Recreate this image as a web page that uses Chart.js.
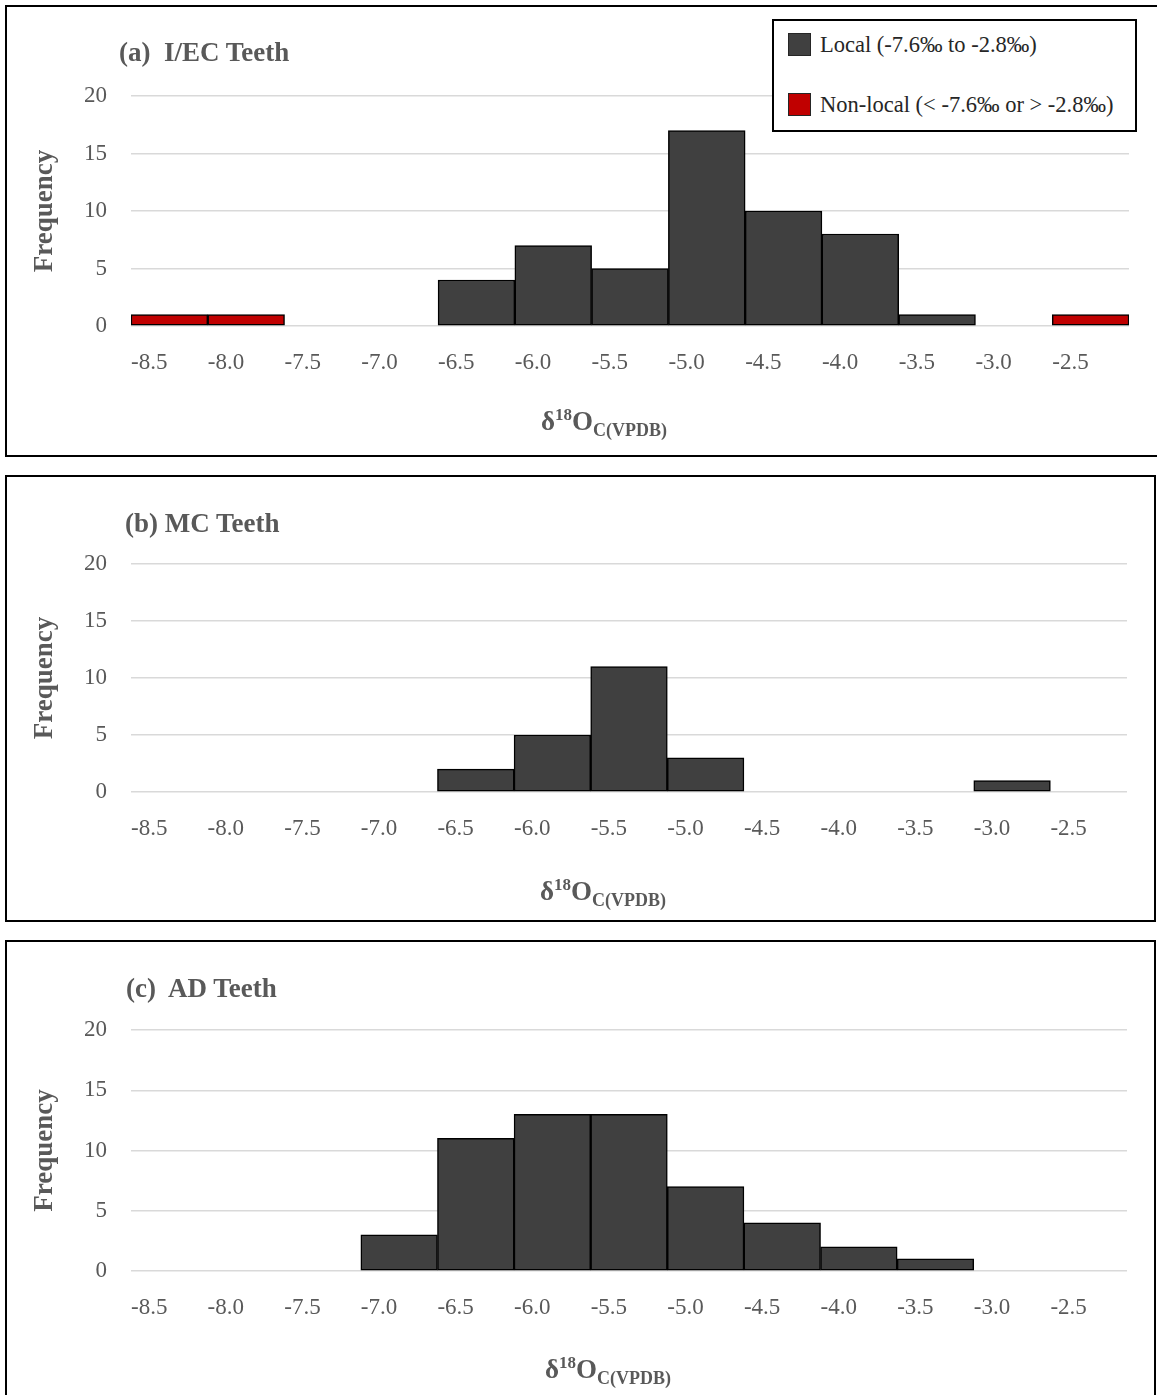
<!DOCTYPE html>
<html>
<head>
<meta charset="utf-8">
<script src="https://cdn.jsdelivr.net/npm/chart.js@4.4.1/dist/chart.umd.min.js"></script>
<style>
body { margin:0; background:#fff; width:1157px; height:1395px; overflow:hidden; position:relative; font-family:"Liberation Serif", serif; }
.panel { position:absolute; border:2px solid #000; box-sizing:border-box; background:#fff; }
.panel canvas { position:absolute; left:0; top:0; }
.ptitle { position:absolute; font-weight:bold; font-size:27px; line-height:27px; color:#595959; white-space:pre; }
.xtitle { position:absolute; width:300px; text-align:center; font-weight:bold; font-size:27px; line-height:30px; color:#595959; white-space:nowrap; }
.xtitle sup { font-size:17px; vertical-align:baseline; position:relative; top:-10px; }
.xtitle sub { font-size:18px; vertical-align:baseline; position:relative; top:6px; }
.legend { position:absolute; left:772px; top:19px; width:365px; height:113px; border:2px solid #000; box-sizing:border-box; background:#fff; }
.legend .item { position:absolute; left:14px; font-size:22.5px; line-height:24px; color:#262626; white-space:nowrap; }
.legend .sw { display:inline-block; width:23px; height:23px; box-sizing:border-box; border:1px solid #262626; vertical-align:top; margin-right:9px; }
</style>
</head>
<body>
<script>
// bins (x labels)
const bins = ["-8.5", "-8.0", "-7.5", "-7.0", "-6.5", "-6.0", "-5.5", "-5.0", "-4.5", "-4.0", "-3.5", "-3.0", "-2.5"];

// (a) I/EC
const localA    = [0, 0, 0, 0, 4, 7, 5, 17, 10, 8, 1, 0, 0];
const nonLocalA = [1, 1, 0, 0, 0, 0, 0, 0, 0, 0, 0, 0, 1];
// (b) MC
const localB = [0, 0, 0, 0, 2, 5, 11, 3, 0, 0, 0, 1, 0];
// (c) AD
const localC = [0, 0, 0, 3, 11, 13, 13, 7, 4, 2, 1, 0, 0];

const yMin = 0, yMax = 20, yStep = 5;

const localLabel = "Local (-7.6\u2030 to -2.8\u2030)";
const nonLocalLabel = "Non-local (< -7.6\u2030 or > -2.8\u2030)";

const txtColor = "#595959";
const fam = "'Liberation Serif', serif";

function barSet(label, data, color) {
	return {
		label: label,
		data: data,
		xAxisID: "x",
		yAxisID: "y",
		backgroundColor: color,
		borderColor: "#000000",
		borderWidth: 1.5,
		borderSkipped: false,
		barPercentage: 1,
		categoryPercentage: 1,
		grouped: false
	};
}

const panels = [
	{ left: 5, top: 5, width: 1154, height: 452, plot: { l: 131, r: 1129, t: 96, b: 326 },
	  title: "(a)  I/EC Teeth", titleX: 119, titleBase: 62, axisCX: 604, axisBase: 430,
	  datasets: [barSet(localLabel, localA, "#404040"), barSet(nonLocalLabel, nonLocalA, "#C00000")], legend: true },
	{ left: 5, top: 475, width: 1151, height: 447, plot: { l: 131, r: 1127, t: 564, b: 792 },
	  title: "(b) MC Teeth", titleX: 125, titleBase: 533, axisCX: 603, axisBase: 900,
	  datasets: [barSet(localLabel, localB, "#404040")] },
	{ left: 5, top: 940, width: 1151, height: 470, plot: { l: 131, r: 1127, t: 1030, b: 1271 },
	  title: "(c)  AD Teeth", titleX: 126, titleBase: 998, axisCX: 608, axisBase: 1378,
	  datasets: [barSet(localLabel, localC, "#404040")] }
];

panels.forEach(function(p) {
	let box = document.createElement("div");
	box.className = "panel";
	box.style.left = p.left + "px";
	box.style.top = p.top + "px";
	box.style.width = p.width + "px";
	box.style.height = p.height + "px";
	document.body.appendChild(box);

	let ox = p.left + 2, oy = p.top + 2;
	let cw = p.width - 4, ch = p.height - 4;
	let plotL = p.plot.l - ox, plotR = p.plot.r - ox, plotT = p.plot.t - oy, plotB = p.plot.b - oy;

	let cv = document.createElement("canvas");
	cv.width = cw;
	cv.height = ch;
	cv.style.width = cw + "px";
	cv.style.height = ch + "px";
	box.appendChild(cv);

	let chart = new Chart(cv.getContext("2d"), {
		type: "bar",
		data: { labels: bins, datasets: p.datasets },
		options: {
			responsive: false,
			devicePixelRatio: 1,
			animation: false,
			layout: { padding: { top: plotT, right: cw - plotR, left: 0, bottom: 0 } },
			scales: {
				x: { type: "category", labels: bins, offset: true, display: false, grid: { display: false } },
				xLab: {
					type: "category",
					labels: bins.concat([""]),
					offset: false,
					position: "bottom",
					grid: { display: false, drawTicks: false },
					border: { display: false },
					ticks: { align: "start", autoSkip: false, maxRotation: 0, padding: 23, color: txtColor,
						font: { family: fam, size: 23 } },
					afterFit: function(s) { s.height = ch - plotB; }
				},
				y: {
					min: yMin, max: yMax,
					ticks: { stepSize: yStep, padding: 24, color: txtColor, font: { family: fam, size: 23 } },
					grid: { color: "#d9d9d9", lineWidth: 1.5, drawTicks: false },
					border: { display: false },
					title: { display: true, text: "Frequency", color: txtColor,
						font: { family: fam, size: 27, weight: "bold" }, padding: { top: 22, bottom: 0 } },
					afterFit: function(s) { s.width = plotL; }
				}
			},
			plugins: {
				legend: { display: false },
				tooltip: { enabled: false }
			}
		}
	});

	// panel title
	let t = document.createElement("div");
	t.className = "ptitle";
	t.textContent = p.title;
	t.style.left = p.titleX + "px";
	t.style.top = (p.titleBase - 23) + "px";
	document.body.appendChild(t);

	// x axis title with super/subscript
	let xt = document.createElement("div");
	xt.className = "xtitle";
	xt.innerHTML = "\u03b4<sup>18</sup>O<sub>C(VPDB)</sub>";
	xt.style.left = (p.axisCX - 150) + "px";
	xt.style.top = (p.axisBase - 24) + "px";
	document.body.appendChild(xt);

	if (p.legend) {
		let lg = document.createElement("div");
		lg.className = "legend";
		chart.data.datasets.forEach(function(ds, i) {
			let it = document.createElement("div");
			it.className = "item";
			it.style.top = (12 + i * 60) + "px";
			it.innerHTML = "<span class=\"sw\" style=\"background:" + ds.backgroundColor + "\"></span>";
			it.appendChild(document.createTextNode(ds.label));
			lg.appendChild(it);
		});
		document.body.appendChild(lg);
	}
});
</script>
</body>
</html>
